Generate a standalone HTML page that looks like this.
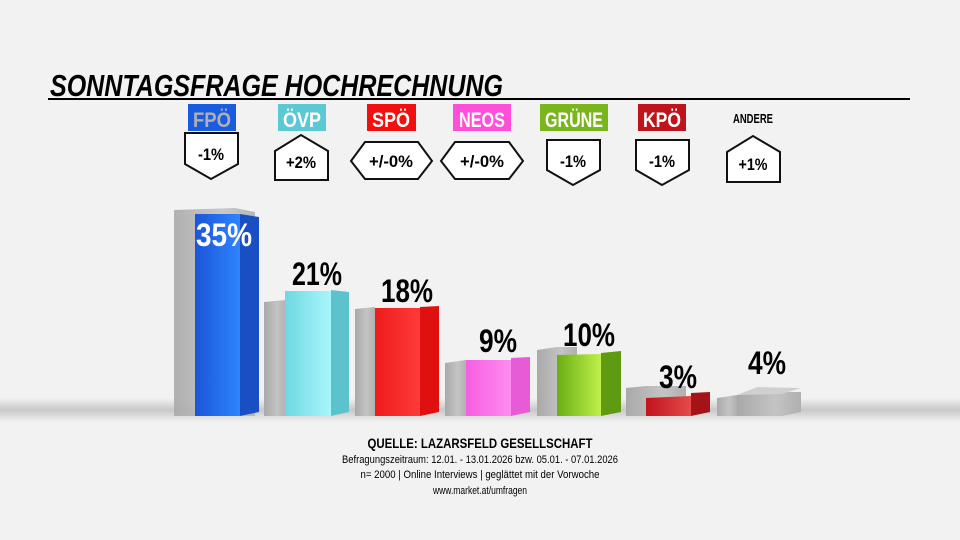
<!DOCTYPE html>
<html><head><meta charset="utf-8"><style>
html,body{margin:0;padding:0;background:#f2f2f2}
svg{display:block}
text{font-family:"Liberation Sans",sans-serif}
</style></head><body>
<svg width="960" height="540" viewBox="0 0 960 540" xmlns="http://www.w3.org/2000/svg">
<defs>
<linearGradient id="floor" x1="0" y1="0" x2="0" y2="1">
<stop offset="0" stop-color="#f2f2f2"/><stop offset="0.5" stop-color="#c8c8c8"/><stop offset="1" stop-color="#f2f2f2"/></linearGradient>
<linearGradient id="grey" x1="0" y1="0" x2="1" y2="0"><stop offset="0" stop-color="#a9a9a9"/><stop offset="0.6" stop-color="#c4c4c4"/><stop offset="1" stop-color="#b0b0b0"/></linearGradient>
<linearGradient id="blue" x1="0" y1="0" x2="1" y2="0"><stop offset="0" stop-color="#1a55d8"/><stop offset="1" stop-color="#2f84ff"/></linearGradient>
<linearGradient id="cyan" x1="0" y1="0" x2="1" y2="0"><stop offset="0" stop-color="#6fd8e2"/><stop offset="1" stop-color="#a8f6fb"/></linearGradient>
<linearGradient id="red" x1="0" y1="0" x2="1" y2="0"><stop offset="0" stop-color="#ee1c1c"/><stop offset="1" stop-color="#ff3a3a"/></linearGradient>
<linearGradient id="pink" x1="0" y1="0" x2="1" y2="0"><stop offset="0" stop-color="#f55ee0"/><stop offset="1" stop-color="#ff8cf2"/></linearGradient>
<linearGradient id="green" x1="0" y1="0" x2="1" y2="0"><stop offset="0" stop-color="#6aae14"/><stop offset="1" stop-color="#bff14a"/></linearGradient>
<linearGradient id="kpo" x1="0" y1="0" x2="1" y2="0"><stop offset="0" stop-color="#c0141d"/><stop offset="1" stop-color="#e64a4a"/></linearGradient>
</defs>
<rect x="0" y="398" width="960" height="24" fill="url(#floor)"/>
<text x="50" y="96" font-size="31" font-weight="bold" font-style="italic" textLength="453" lengthAdjust="spacingAndGlyphs">SONNTAGSFRAGE HOCHRECHNUNG</text>
<rect x="48" y="98" width="862" height="2" fill="#000"/>

<g font-size="21" font-weight="bold" text-anchor="middle" fill="#fff" lengthAdjust="spacingAndGlyphs">
<rect x="188" y="104" width="48" height="27" fill="#1a5ce0"/><text x="212" y="127" fill="#b0b0b0" textLength="38" lengthAdjust="spacingAndGlyphs">FPÖ</text>
<rect x="278" y="104" width="48" height="27" fill="#5bc8d3"/><text x="302" y="127" textLength="38" lengthAdjust="spacingAndGlyphs">ÖVP</text>
<rect x="367" y="104" width="49" height="27" fill="#f01010"/><text x="391" y="127" textLength="38" lengthAdjust="spacingAndGlyphs">SPÖ</text>
<rect x="453" y="104" width="58" height="27" fill="#ff4fd8"/><text x="482" y="127" textLength="46" lengthAdjust="spacingAndGlyphs">NEOS</text>
<rect x="540" y="104" width="68" height="27" fill="#7ab51d"/><text x="574" y="127" textLength="58" lengthAdjust="spacingAndGlyphs">GRÜNE</text>
<rect x="638" y="104" width="48" height="27" fill="#c0141d"/><text x="662" y="127" textLength="38" lengthAdjust="spacingAndGlyphs">KPÖ</text>
<text x="753" y="123" font-size="13" fill="#000" textLength="40" lengthAdjust="spacingAndGlyphs">ANDERE</text>
</g>
<g fill="#fff" stroke="#111" stroke-width="2">
<path d="M185,133 H238 V164 L211,179 L185,164 Z"/>
<path d="M275,151 L301,135 L328,151 V180 H275 Z"/>
<path d="M351,161 L365,142 H418 L432,161 L418,179 H365 Z"/>
<path d="M441,161 L455,142 H509 L523,161 L509,179 H455 Z"/>
<path d="M547,140 H600 V170 L573,185 L547,170 Z"/>
<path d="M636,140 H689 V170 L662,185 L636,170 Z"/>
<path d="M727,152 L753,136 L780,152 V182 H727 Z"/>
</g>
<g font-size="17" font-weight="bold" text-anchor="middle">
<text x="211" y="160" textLength="26" lengthAdjust="spacingAndGlyphs">-1%</text>
<text x="301" y="168" textLength="30" lengthAdjust="spacingAndGlyphs">+2%</text>
<text x="391" y="167" textLength="44" lengthAdjust="spacingAndGlyphs">+/-0%</text>
<text x="482" y="167" textLength="44" lengthAdjust="spacingAndGlyphs">+/-0%</text>
<text x="573" y="167" textLength="26" lengthAdjust="spacingAndGlyphs">-1%</text>
<text x="662" y="167" textLength="26" lengthAdjust="spacingAndGlyphs">-1%</text>
<text x="753" y="170" textLength="29" lengthAdjust="spacingAndGlyphs">+1%</text>
</g>

<g>
<path d="M174,210 L235,208 L255,212 V416 H174 Z" fill="url(#grey)" opacity="0.9"/>
<path d="M195,214 L240,214 V416 H195 Z" fill="url(#blue)"/>
<path d="M240,214 L259,217 V412 L240,416 Z" fill="#1a4fc4"/>

<path d="M264,302 L286,300 V416 H264 Z" fill="url(#grey)"/>
<path d="M285,291 L331,291 V416 H285 Z" fill="url(#cyan)"/>
<path d="M331,290 L349,292 V412 L331,416 Z" fill="#5cc3cc"/>

<path d="M355,309 L375,307 V416 H355 Z" fill="url(#grey)"/>
<path d="M375,308 L420,308 V416 H375 Z" fill="url(#red)"/>
<path d="M420,307 L439,306 V412 L420,416 Z" fill="#e01010"/>

<path d="M445,363 L466,360 V416 H445 Z" fill="url(#grey)"/>
<path d="M466,360 L511,360 V416 H466 Z" fill="url(#pink)"/>
<path d="M511,358 L530,357 V412 L511,416 Z" fill="#e85bd6"/>

<path d="M537,350 L557,347 H577 V416 H537 Z" fill="url(#grey)"/>
<path d="M557,355 L601,354 V416 H557 Z" fill="url(#green)"/>
<path d="M601,353 L621,351 V412 L601,416 Z" fill="#5e9a12"/>

<path d="M626,388 L646,386 H686 V416 H626 Z" fill="url(#grey)"/>
<path d="M646,398 L691,396 V416 H646 Z" fill="url(#kpo)"/>
<path d="M691,393 L710,392 V412 L691,416 Z" fill="#a51218"/>

<path d="M717,398 L737,395 V416 H717 Z" fill="url(#grey)"/>
<path d="M737,395 L759,392 H801 V412 L782,416 H737 Z" fill="url(#grey)"/>
<path d="M737,395 L782,394 L801,388 L757,387 Z" fill="#d0d0d0"/>
</g>
<g font-size="32" font-weight="bold" text-anchor="middle">
<text x="224" y="246" fill="#fff" textLength="56" lengthAdjust="spacingAndGlyphs">35%</text>
<text x="317" y="285" textLength="50" lengthAdjust="spacingAndGlyphs">21%</text>
<text x="407" y="302" textLength="52" lengthAdjust="spacingAndGlyphs">18%</text>
<text x="498" y="352" textLength="38" lengthAdjust="spacingAndGlyphs">9%</text>
<text x="589" y="346" textLength="52" lengthAdjust="spacingAndGlyphs">10%</text>
<text x="678" y="388" textLength="38" lengthAdjust="spacingAndGlyphs">3%</text>
<text x="767" y="374" textLength="38" lengthAdjust="spacingAndGlyphs">4%</text>
</g>

<g text-anchor="middle" font-size="11">
<text x="480" y="448" font-size="14" font-weight="bold" textLength="225" lengthAdjust="spacingAndGlyphs">QUELLE: LAZARSFELD GESELLSCHAFT</text>
<text x="480" y="463" textLength="276" lengthAdjust="spacingAndGlyphs">Befragungszeitraum:  12.01. - 13.01.2026  bzw. 05.01. - 07.01.2026</text>
<text x="480" y="478" textLength="239" lengthAdjust="spacingAndGlyphs">n= 2000 | Online Interviews | geglättet mit der Vorwoche</text>
<text x="480" y="494" textLength="94" lengthAdjust="spacingAndGlyphs">www.market.at/umfragen</text>
</g>
</svg>
</body></html>
